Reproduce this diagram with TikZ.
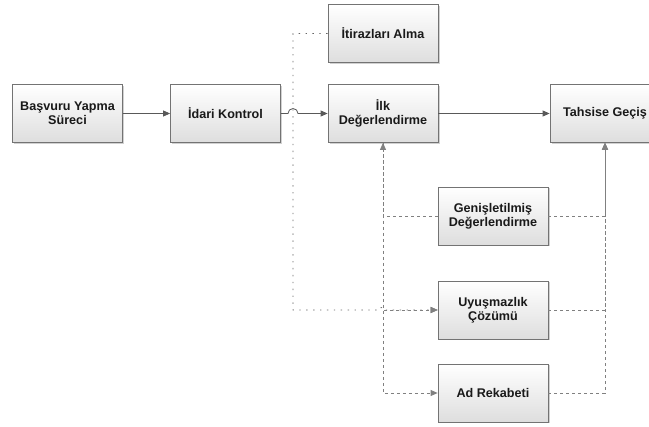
\documentclass[tikz,border=0pt]{standalone}
\usepackage{fontspec}
\setmainfont{Liberation Sans}
\usetikzlibrary{arrows.meta}
\usetikzlibrary{shadows}

\begin{document}
\begin{tikzpicture}[x=1pt,y=-1pt,
    kutu/.style={draw=black!55,line width=0.8pt,top color=white,bottom color=black!13,
      drop shadow={shadow xshift=1.5pt,shadow yshift=-1.5pt,fill=black!30,opacity=0.6},
      minimum width=110pt,minimum height=58pt,inner sep=0pt,align=center,
      text=black!90,font=\bfseries\fontsize{12.6}{14}\selectfont},
    ok/.style={draw=black!65,line width=0.8pt,-{Triangle[length=7pt,width=6pt]}},
    kesik/.style={ok,draw=black!50,dash pattern=on 3pt off 3pt},
    nokta/.style={ok,draw=black!60,dash pattern=on 1.4pt off 5.5pt}]
  \clip (0,0) rectangle (649,427);
  \node[kutu] (basvuru) at (67.5,113.5) {Başvuru Yapma\\Süreci};
  \node[kutu] (idari) at (225.5,113.5) {İdari Kontrol};
  \node[kutu] (itiraz) at (383,33.5) {İtirazları Alma};
  \node[kutu] (ilk) at (383,113.5) {İlk\\Değerlendirme};
  \node[kutu] (tahsis) at (605,113.5) {Tahsise Geçiş};
  \node[kutu] (genis) at (493,216) {Genişletilmiş\\Değerlendirme};
  \node[kutu] (uyus) at (493,310) {Uyuşmazlık\\Çözümü};
  \node[kutu] (adrek) at (493,393) {Ad Rekabeti};
  \coordinate (kopru) at (288,113.5);
  \coordinate (dongu) at (293,310);
  \draw[ok] (basvuru) -- (idari);
  \draw[ok] (idari.east) -- (kopru) arc[start angle=180,end angle=360,radius=5] -- (ilk.west);
  \draw[ok] (ilk) -- (tahsis);
  \draw[nokta] (itiraz.west) -| (dongu) -- ++(87,0) arc[start angle=180,end angle=360,radius=3] -- (uyus.west);
  \draw[kesik] (genis.west) -| (ilk.south);
  \draw[kesik] (ilk.south) |- (uyus.west);
  \draw[kesik] (ilk.south) |- (adrek.west);
  \foreach \k in {genis,uyus,adrek}
    \draw[kesik] (\k.east) -| (tahsis.south);
\end{tikzpicture}
\end{document}
